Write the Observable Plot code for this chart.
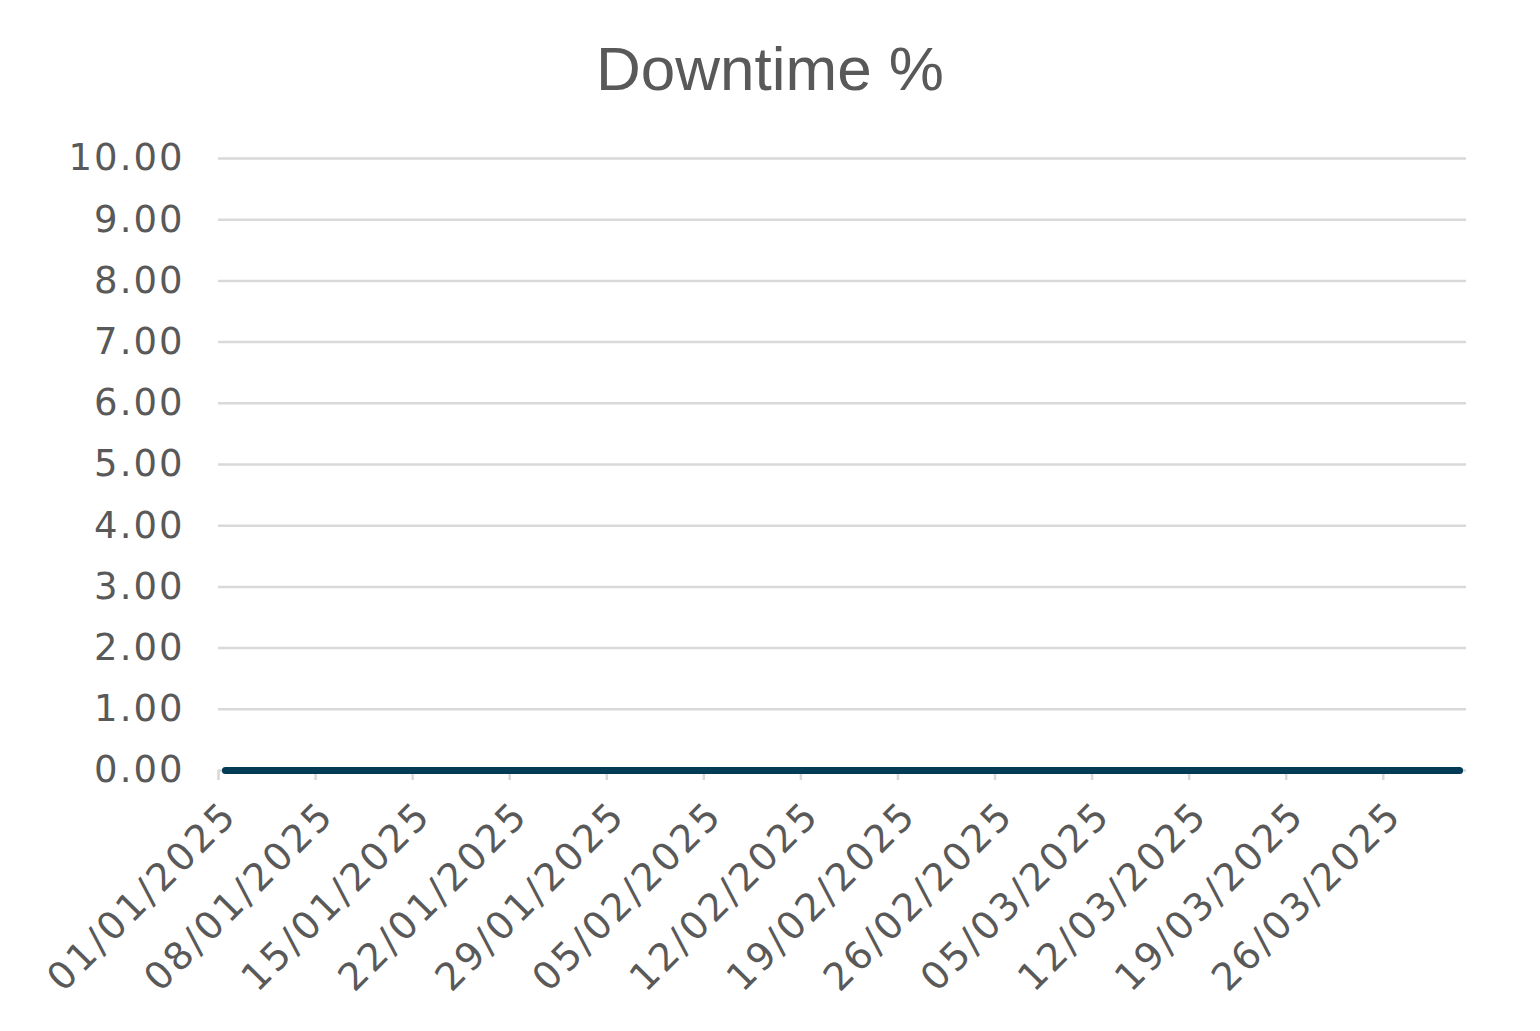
<!DOCTYPE html>
<html>
<head>
<meta charset="utf-8">
<script src="https://cdn.jsdelivr.net/npm/d3@7"></script>
<script src="https://cdn.jsdelivr.net/npm/@observablehq/plot@0.6"></script>
<style>
  html, body { margin: 0; padding: 0; background: #fff; }
  #title {
    box-sizing: border-box; height: 125px; padding-top: 38px;
    font-family: "Liberation Sans", Arial, sans-serif; font-size: 62px; line-height: 62px;
    color: #595959; text-align: center; width: 1540px;
  }
  g[aria-label="x-axis tick label"] text { letter-spacing: 3px; }
  g[aria-label="y-axis tick label"] text { letter-spacing: 2px; }
</style>
</head>
<body>
<div id="title">Downtime %</div>
<div id="chart"></div>
<script>
const dates = [
  "2025-01-01","2025-01-02","2025-01-03","2025-01-04","2025-01-05","2025-01-06","2025-01-07",
  "2025-01-08","2025-01-09","2025-01-10","2025-01-11","2025-01-12","2025-01-13","2025-01-14",
  "2025-01-15","2025-01-16","2025-01-17","2025-01-18","2025-01-19","2025-01-20","2025-01-21",
  "2025-01-22","2025-01-23","2025-01-24","2025-01-25","2025-01-26","2025-01-27","2025-01-28",
  "2025-01-29","2025-01-30","2025-01-31","2025-02-01","2025-02-02","2025-02-03","2025-02-04",
  "2025-02-05","2025-02-06","2025-02-07","2025-02-08","2025-02-09","2025-02-10","2025-02-11",
  "2025-02-12","2025-02-13","2025-02-14","2025-02-15","2025-02-16","2025-02-17","2025-02-18",
  "2025-02-19","2025-02-20","2025-02-21","2025-02-22","2025-02-23","2025-02-24","2025-02-25",
  "2025-02-26","2025-02-27","2025-02-28","2025-03-01","2025-03-02","2025-03-03","2025-03-04",
  "2025-03-05","2025-03-06","2025-03-07","2025-03-08","2025-03-09","2025-03-10","2025-03-11",
  "2025-03-12","2025-03-13","2025-03-14","2025-03-15","2025-03-16","2025-03-17","2025-03-18",
  "2025-03-19","2025-03-20","2025-03-21","2025-03-22","2025-03-23","2025-03-24","2025-03-25",
  "2025-03-26","2025-03-27","2025-03-28","2025-03-29","2025-03-30","2025-03-31"
];
const downtime = [
  0,0,0,0,0,0,0, 0,0,0,0,0,0,0, 0,0,0,0,0,0,0, 0,0,0,0,0,0,0,
  0,0,0,0,0,0,0, 0,0,0,0,0,0,0, 0,0,0,0,0,0,0, 0,0,0,0,0,0,0,
  0,0,0,0,0,0,0, 0,0,0,0,0,0,0, 0,0,0,0,0,0,0, 0,0,0,0,0,0,0,
  0,0,0,0,0,0
];
const xTickLabels = [
  "01/01/2025","08/01/2025","15/01/2025","22/01/2025","29/01/2025","05/02/2025","12/02/2025",
  "19/02/2025","26/02/2025","05/03/2025","12/03/2025","19/03/2025","26/03/2025"
];
const yTicks = [0,1,2,3,4,5,6,7,8,9,10];
const xDomain = ["2025-01-01","2025-04-01"];

const parseISO = d3.utcParse("%Y-%m-%d");
const parseDMY = d3.utcParse("%d/%m/%Y");
const data = dates.map((d, i) => ({date: parseISO(d), value: downtime[i]}));
const xTicks = xTickLabels.map(parseDMY);

const chart = Plot.plot({
  width: 1540,
  height: 906,
  marginTop: 33,
  marginBottom: 261,
  marginLeft: 218,
  marginRight: 74,
  style: {fontFamily: "'DejaVu Sans', sans-serif", fontSize: "36px", color: "#595959", background: "#fff"},
  x: {type: "utc", domain: xDomain.map(parseISO), label: null},
  y: {domain: [0, 10], label: null},
  marks: [
    Plot.gridY(yTicks, {stroke: "#d9d9d9", strokeOpacity: 1, strokeWidth: 2.5}),
    Plot.axisY(yTicks, {tickFormat: d3.format(".2f"), tickSize: 0, tickPadding: 34, fill: "#595959", fontSize: 37, label: null}),
    Plot.axisX(xTicks, {tickFormat: d3.utcFormat("%d/%m/%Y"), tickSize: 10, stroke: "#d9d9d9", strokeWidth: 2.5, text: null, label: null}),
    Plot.axisX(xTicks, {tickFormat: d3.utcFormat("%d/%m/%Y"), tickSize: 0, tickPadding: 38, dx: 12, tickRotate: -45,
      fill: "#595959", fontSize: 38, label: null}),
    Plot.lineY(data, {x: d => d3.utcHour.offset(d.date, 12), y: "value", stroke: "#033a56", strokeWidth: 7, strokeLinecap: "round"})
  ]
});
document.getElementById("chart").appendChild(chart);
</script>
</body>
</html>
